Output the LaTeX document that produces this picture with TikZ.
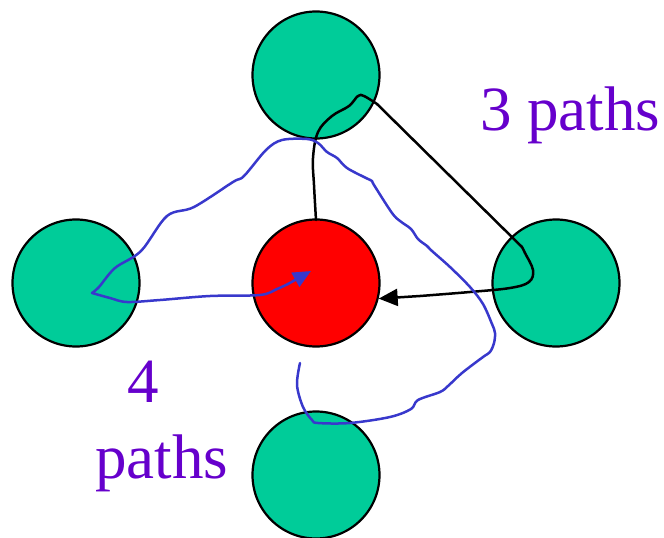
\documentclass[tikz,border=0pt]{standalone}
\usepackage{fontspec}
\setmainfont{Liberation Serif}
\usetikzlibrary{arrows.meta}
\definecolor{teal}{HTML}{00CC99}
\definecolor{hot}{HTML}{FF0000}
\definecolor{pathblue}{HTML}{3838CC}
\definecolor{labelpurple}{HTML}{6600CC}
\tikzset{
  vertex/.style={circle, draw=black, line width=2.2pt, minimum size=127pt, inner sep=0pt},
  route/.style={line width=2.5pt, line join=round, line cap=round},
  countlabel/.style={text=labelpurple, font=\fontsize{63}{72}\selectfont, inner sep=0pt, anchor=base west}
}
\begin{document}
\begin{tikzpicture}[x=1pt, y=-1pt]
\useasboundingbox (0,0) rectangle (664,538);

% the five vertices
\node[vertex, fill=teal] (top) at (316,75) {};
\node[vertex, fill=teal] (left) at (76,283) {};
\node[vertex, fill=hot] (mid) at (316,283) {};
\node[vertex, fill=teal] (right) at (556,283) {};
\node[vertex, fill=teal] (bottom) at (316,475) {};

% black route: up from the centre, over the top vertex, down to the right one and back
\coordinate (kink) at (522,247);
\draw[route, black]
  plot[smooth, tension=0.6] coordinates {(316,220) (314,185) (313,158) (318,132) (332,116) (349,106) (358,96) (364,96) (377,104)}
  -- (kink)
  plot[smooth, tension=0.6] coordinates {(kink) (525,253) (533,270) (529,282) (510,288) (470,292) (420,296)};
\draw[route, black, -{Triangle[length=19pt, width=17pt]}] (420,296) -- (mid.-14);

% blue route: around the bottom, right and top vertices into the left one, then to the centre
\coordinate (bstart) at (300,363);
\coordinate (bturn) at (92,293);
\draw[route, pathblue]
  plot[smooth, tension=0.55] coordinates {(bstart) (297,385) (303,407) (312,420) (318,423) (350,423) (390,417) (411,409) (418,400) (440,392) (448,386) (462,373) (483,357) (490,352) (494,343) (495,333) (492,324) (483,304) (470,287) (450,267) (432,251) (427,246) (418,239) (411,229) (400,221) (392,213) (374,185) (372,181) (366,178) (347,168) (337,158) (327,152) (318,143) (307,139) (282,140) (266,150) (244,176) (233,182) (194,207) (167,216) (141,251) (115,268) (99,287) (bturn)}
  plot[smooth, tension=0.55] coordinates {(bturn) (110,298) (127,302) (160,300) (210,296) (260,295) (277,289) (288,284)};
\draw[route, pathblue, -{Triangle[length=18pt, width=16pt]}] (288,284) -- (311,271);

% path counts
\node[countlabel] (three) at (480,130) {3 paths};
\node[countlabel] (four) at (127,402) {4};
\node[countlabel] (fourb) at (95,478) {paths};
\end{tikzpicture}
\end{document}
